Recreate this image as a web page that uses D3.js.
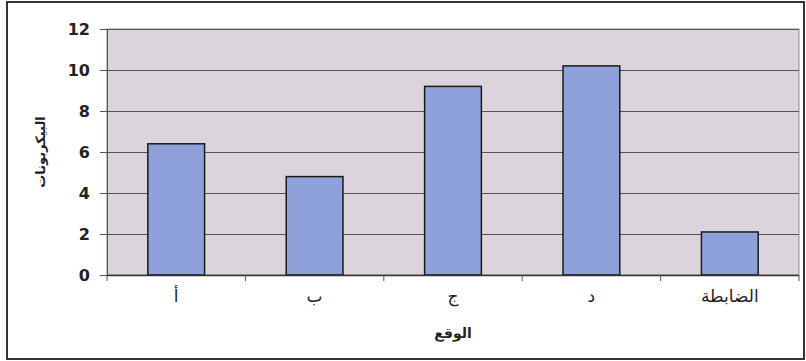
<!DOCTYPE html>
<html>
<head>
<meta charset="utf-8">
<script src="https://cdn.jsdelivr.net/npm/d3@7"></script>
<style>
  html, body { margin: 0; padding: 0; background: #ffffff; }
  svg { display: block; }
</style>
</head>
<body>
<svg id="chart" width="806" height="361"></svg>
<script>
// Bicarbonate readings by site
const categories = ["أ", "ب", "ج", "د", "الضابطة"];
const values = [6.4, 4.8, 9.2, 10.2, 2.1];
const yTicks = [0, 2, 4, 6, 8, 10, 12];
const yTitle = "البيكربونات";
const xTitle = "الوقع";

const svg = d3.select("#chart");
const W = 806, H = 361;
const plot = { left: 107, right: 799, top: 29, bottom: 275 };

// outer frame
svg.append("rect")
  .attr("x", 7).attr("y", 2)
  .attr("width", W - 9).attr("height", H - 4)
  .attr("fill", "#ffffff")
  .attr("stroke", "#333333").attr("stroke-width", 2);

const x = d3.scaleBand()
  .domain(categories)
  .range([plot.left, plot.right])
  .paddingInner(0.59).paddingOuter(0.295);

const xBand = d3.scaleBand()
  .domain(categories)
  .range([plot.left, plot.right]);

const y = d3.scaleLinear()
  .domain([0, 12])
  .range([plot.bottom, plot.top]);

// plot background
svg.append("rect")
  .attr("x", plot.left).attr("y", plot.top)
  .attr("width", plot.right - plot.left).attr("height", plot.bottom - plot.top)
  .attr("fill", "#dcd4dc")
  .attr("stroke", "#8a8a8a").attr("stroke-width", 1);

// horizontal gridlines
svg.append("g")
  .selectAll("line")
  .data(yTicks.filter(t => t > 0))
  .join("line")
  .attr("x1", plot.left).attr("x2", plot.right)
  .attr("y1", d => Math.round(y(d)) + 0.5).attr("y2", d => Math.round(y(d)) + 0.5)
  .attr("stroke", "#55525a").attr("stroke-width", 1);

// bars
svg.append("g")
  .selectAll("rect")
  .data(categories.map((c, i) => ({ c, v: values[i] })))
  .join("rect")
  .attr("x", d => x(d.c))
  .attr("y", d => y(d.v))
  .attr("width", x.bandwidth())
  .attr("height", d => y(0) - y(d.v))
  .attr("fill", "#8ea1da")
  .attr("stroke", "#1a1a1a").attr("stroke-width", 1.5);

// y axis
const yAxis = svg.append("g")
  .attr("transform", `translate(${plot.left},0)`)
  .call(d3.axisLeft(y).tickValues(yTicks).tickSize(7).tickPadding(10).tickFormat(d3.format("d")));
yAxis.select(".domain").attr("stroke", "#555555");
yAxis.selectAll(".tick line").attr("stroke", "#555555");
yAxis.selectAll(".tick text")
  .attr("font-family", "DejaVu Sans, sans-serif")
  .attr("font-size", 16).attr("font-weight", "bold")
  .attr("fill", "#222222");

// x axis with ticks on band boundaries
const xAxisG = svg.append("g")
  .attr("transform", `translate(0,${plot.bottom})`);
xAxisG.append("line")
  .attr("x1", plot.left).attr("x2", plot.right)
  .attr("y1", 0.5).attr("y2", 0.5)
  .attr("stroke", "#333333").attr("stroke-width", 1.5);
const boundaries = categories.map(c => xBand(c)).concat([plot.right]);
xAxisG.selectAll("line.tk")
  .data(boundaries)
  .join("line").attr("class", "tk")
  .attr("x1", d => d).attr("x2", d => d)
  .attr("y1", 0).attr("y2", 6)
  .attr("stroke", "#555555");
xAxisG.selectAll("text")
  .data(categories)
  .join("text")
  .attr("x", d => xBand(d) + xBand.bandwidth() / 2)
  .attr("y", 27)
  .attr("text-anchor", "middle")
  .attr("font-family", "DejaVu Sans, sans-serif")
  .attr("font-size", 17)
  .attr("fill", "#222222")
  .text(d => d);

// axis titles
svg.append("text")
  .attr("x", (plot.left + plot.right) / 2)
  .attr("y", 338)
  .attr("text-anchor", "middle")
  .attr("font-family", "DejaVu Sans, sans-serif")
  .attr("font-size", 14).attr("font-weight", "bold")
  .attr("fill", "#222222")
  .text(xTitle);

svg.append("text")
  .attr("transform", `translate(45,${(plot.top + plot.bottom) / 2}) rotate(-90)`)
  .attr("text-anchor", "middle")
  .attr("font-family", "DejaVu Sans, sans-serif")
  .attr("font-size", 13).attr("font-weight", "bold")
  .attr("fill", "#222222")
  .text(yTitle);
</script>
</body>
</html>
